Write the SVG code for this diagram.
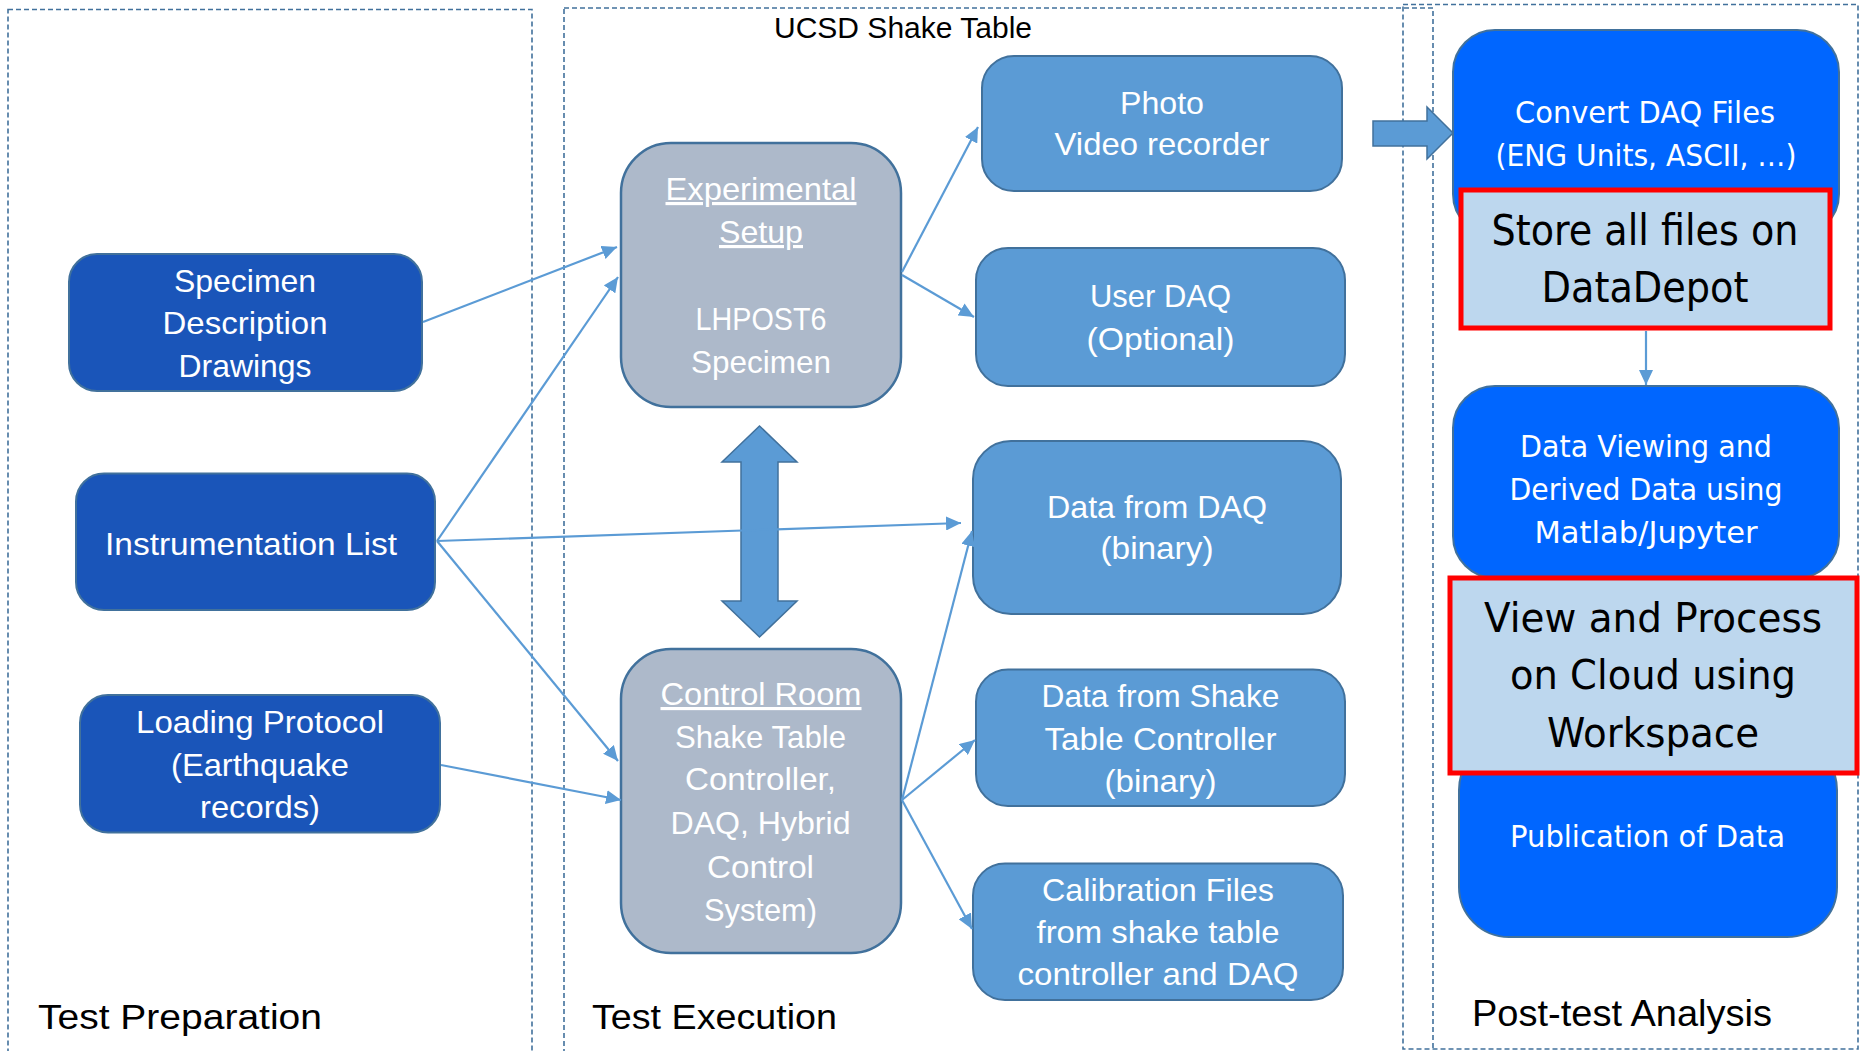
<svg xmlns="http://www.w3.org/2000/svg" width="1862" height="1051" viewBox="0 0 1862 1051">
<defs>
<style>
.frame{fill:none;stroke:#41719C;stroke-width:1.6;stroke-dasharray:5 3}
.dark{fill:#1A55B9;stroke:#41719C;stroke-width:2}
.gray{fill:#ADB9CA;stroke:#41719C;stroke-width:2.5}
.light{fill:#5B9BD5;stroke:#41719C;stroke-width:2}
.bright{fill:#0066FF;stroke:#41719C;stroke-width:2}
.hl{fill:#BDD7EE;stroke:#FF0000;stroke-width:5}
.block{fill:#5B9BD5;stroke:#41719C;stroke-width:1.5}
.conn{fill:none;stroke:#5B9BD5;stroke-width:2.2}
text{font-family:"Liberation Sans",Arial,sans-serif;text-anchor:middle}
.w30{fill:#FFFFFF;font-size:31.5px}
.w32{fill:#FFFFFF;font-size:32px}
.r31{fill:#FFFFFF;font-size:31px;font-family:"DejaVu Sans","Liberation Sans",sans-serif}
.big{fill:#000000;font-size:42px;font-family:"DejaVu Sans","Liberation Sans",sans-serif}
.lbl{fill:#000000;font-size:35px;text-anchor:start}
</style>
<marker id="ah" markerUnits="userSpaceOnUse" markerWidth="16" markerHeight="14" refX="15" refY="7" orient="auto">
<path d="M0,0 L15,7 L0,14 Z" fill="#5B9BD5"/>
</marker>
</defs>
<rect width="1862" height="1051" fill="#FFFFFF"/>

<g id="frames">
<rect class="frame" x="8" y="9.5" width="524" height="1070"/>
<rect class="frame" x="564" y="8" width="869" height="1070"/>
<rect class="frame" x="1403" y="4.5" width="455" height="1044.5"/>
<text x="903" y="38" style="fill:#000;font-size:30px" textLength="258" lengthAdjust="spacingAndGlyphs">UCSD Shake Table</text>
<text class="lbl" x="38" y="1028.5" textLength="284" lengthAdjust="spacingAndGlyphs">Test Preparation</text>
<text class="lbl" x="592" y="1028.5" textLength="245" lengthAdjust="spacingAndGlyphs">Test Execution</text>
<text class="lbl" x="1472" y="1025.6" style="font-size:36px" textLength="300" lengthAdjust="spacingAndGlyphs">Post-test Analysis</text>
</g>

<g id="specimen">
<rect class="dark" x="69" y="254" width="353" height="137" rx="28"/>
<text class="w32" x="245" y="292" textLength="142" lengthAdjust="spacingAndGlyphs">Specimen</text>
<text class="w32" x="245" y="334" textLength="165" lengthAdjust="spacingAndGlyphs">Description</text>
<text class="w32" x="245" y="377" textLength="133" lengthAdjust="spacingAndGlyphs">Drawings</text>
</g>

<g id="instrumentation">
<rect class="dark" x="76" y="473.5" width="359" height="136.5" rx="28"/>
<text class="w32" x="251" y="555" textLength="292" lengthAdjust="spacingAndGlyphs">Instrumentation List</text>
</g>

<g id="loading">
<rect class="dark" x="80" y="695" width="360" height="137.5" rx="28"/>
<text class="w32" x="260" y="733" textLength="248" lengthAdjust="spacingAndGlyphs">Loading Protocol</text>
<text class="w32" x="260" y="776" textLength="178" lengthAdjust="spacingAndGlyphs">(Earthquake</text>
<text class="w32" x="260" y="818" textLength="120" lengthAdjust="spacingAndGlyphs">records)</text>
</g>

<g id="experimental">
<rect class="gray" x="621" y="143" width="280" height="264" rx="50"/>
<text class="w30" x="761" y="200" text-decoration="underline" textLength="191" lengthAdjust="spacingAndGlyphs">Experimental</text>
<text class="w30" x="761" y="243" text-decoration="underline" textLength="84" lengthAdjust="spacingAndGlyphs">Setup</text>
<text class="w30" x="761" y="330" textLength="131" lengthAdjust="spacingAndGlyphs">LHPOST6</text>
<text class="w30" x="761" y="373" textLength="140" lengthAdjust="spacingAndGlyphs">Specimen</text>
</g>

<g id="double-arrow">
<polygon class="block" points="759.5,426 797,462 778,462 778,601 797,601 759.5,637 722,601 741,601 741,462 722,462"/>
</g>

<g id="control-room">
<rect class="gray" x="621" y="649" width="280" height="304" rx="50"/>
<text class="w30" x="761" y="705" text-decoration="underline" textLength="201" lengthAdjust="spacingAndGlyphs">Control Room</text>
<text class="w30" x="760.5" y="748" textLength="171" lengthAdjust="spacingAndGlyphs">Shake Table</text>
<text class="w30" x="760.5" y="790" textLength="151" lengthAdjust="spacingAndGlyphs">Controller,</text>
<text class="w30" x="760.5" y="834" textLength="180" lengthAdjust="spacingAndGlyphs">DAQ, Hybrid</text>
<text class="w30" x="760.5" y="878" textLength="107" lengthAdjust="spacingAndGlyphs">Control</text>
<text class="w30" x="760.5" y="921" textLength="113" lengthAdjust="spacingAndGlyphs">System)</text>
</g>

<g id="photo">
<rect class="light" x="982" y="56" width="360" height="135" rx="32"/>
<text class="w30" x="1162" y="114" textLength="84" lengthAdjust="spacingAndGlyphs">Photo</text>
<text class="w30" x="1162" y="155" textLength="215" lengthAdjust="spacingAndGlyphs">Video recorder</text>
</g>

<g id="user-daq">
<rect class="light" x="976" y="248" width="369" height="138" rx="32"/>
<text class="w30" x="1160.5" y="307" textLength="141" lengthAdjust="spacingAndGlyphs">User DAQ</text>
<text class="w30" x="1160.5" y="350" textLength="148" lengthAdjust="spacingAndGlyphs">(Optional)</text>
</g>

<g id="data-daq">
<rect class="light" x="973" y="441" width="368" height="173" rx="38"/>
<text class="w30" x="1157" y="518" textLength="220" lengthAdjust="spacingAndGlyphs">Data from DAQ</text>
<text class="w30" x="1157" y="559" textLength="113" lengthAdjust="spacingAndGlyphs">(binary)</text>
</g>

<g id="data-shake">
<rect class="light" x="976" y="669.5" width="369" height="136.5" rx="32"/>
<text class="w30" x="1160.5" y="707" textLength="238" lengthAdjust="spacingAndGlyphs">Data from Shake</text>
<text class="w30" x="1160.5" y="750" textLength="232" lengthAdjust="spacingAndGlyphs">Table Controller</text>
<text class="w30" x="1160.5" y="792" textLength="112" lengthAdjust="spacingAndGlyphs">(binary)</text>
</g>

<g id="calibration">
<rect class="light" x="973" y="863.5" width="370" height="136.5" rx="32"/>
<text class="w30" x="1158" y="901" textLength="232" lengthAdjust="spacingAndGlyphs">Calibration Files</text>
<text class="w30" x="1158" y="943" textLength="243" lengthAdjust="spacingAndGlyphs">from shake table</text>
<text class="w30" x="1158" y="985" textLength="281" lengthAdjust="spacingAndGlyphs">controller and DAQ</text>
</g>

<g id="transfer-arrow">
<polygon class="block" points="1373,121 1427,121 1427,107 1453,133 1427,159 1427,146 1373,146"/>
</g>

<g id="convert">
<rect class="bright" x="1453" y="30" width="386" height="206" rx="42"/>
<text class="r31" x="1645" y="123" textLength="260" lengthAdjust="spacingAndGlyphs">Convert DAQ Files</text>
<text class="r31" x="1646" y="166" textLength="301" lengthAdjust="spacingAndGlyphs">(ENG Units, ASCII, …)</text>
</g>

<g id="data-viewing">
<rect class="bright" x="1453" y="386" width="386" height="192" rx="42"/>
<text class="r31" x="1646" y="457" textLength="252" lengthAdjust="spacingAndGlyphs">Data Viewing and</text>
<text class="r31" x="1646" y="500" textLength="273" lengthAdjust="spacingAndGlyphs">Derived Data using</text>
<text class="r31" x="1646" y="543" textLength="223" lengthAdjust="spacingAndGlyphs">Matlab/Jupyter</text>
</g>

<g id="publication">
<rect class="bright" x="1459" y="740" width="378" height="197" rx="50"/>
<text class="r31" x="1647.5" y="846.5" textLength="275" lengthAdjust="spacingAndGlyphs">Publication of Data</text>
</g>

<g id="store">
<rect class="hl" x="1461" y="190" width="369" height="138"/>
<text class="big" x="1645" y="245" textLength="307" lengthAdjust="spacingAndGlyphs">Store all files on</text>
<text class="big" x="1645" y="302" textLength="207" lengthAdjust="spacingAndGlyphs">DataDepot</text>
</g>

<g id="view-process">
<rect class="hl" x="1450" y="578" width="407" height="195"/>
<text class="big" x="1653" y="632" style="font-size:41px" textLength="338" lengthAdjust="spacingAndGlyphs">View and Process</text>
<text class="big" x="1653" y="689" style="font-size:41px" textLength="286" lengthAdjust="spacingAndGlyphs">on Cloud using</text>
<text class="big" x="1653" y="747" style="font-size:41px" textLength="212" lengthAdjust="spacingAndGlyphs">Workspace</text>
</g>

<g id="connectors">
<line class="conn" x1="423" y1="322" x2="617" y2="247" marker-end="url(#ah)"/>
<line class="conn" x1="437" y1="541" x2="618" y2="277" marker-end="url(#ah)"/>
<line class="conn" x1="437" y1="541" x2="961" y2="523" marker-end="url(#ah)"/>
<line class="conn" x1="437" y1="541" x2="618" y2="761" marker-end="url(#ah)"/>
<line class="conn" x1="441" y1="765" x2="621" y2="800" marker-end="url(#ah)"/>
<line class="conn" x1="902" y1="272" x2="978" y2="127" marker-end="url(#ah)"/>
<line class="conn" x1="902" y1="275" x2="974" y2="317" marker-end="url(#ah)"/>
<line class="conn" x1="902" y1="800" x2="972" y2="531" marker-end="url(#ah)"/>
<line class="conn" x1="902" y1="800" x2="975" y2="740" marker-end="url(#ah)"/>
<line class="conn" x1="902" y1="800" x2="972" y2="929" marker-end="url(#ah)"/>
<line class="conn" x1="1646" y1="331" x2="1646" y2="385" marker-end="url(#ah)"/>
</g>
</svg>
